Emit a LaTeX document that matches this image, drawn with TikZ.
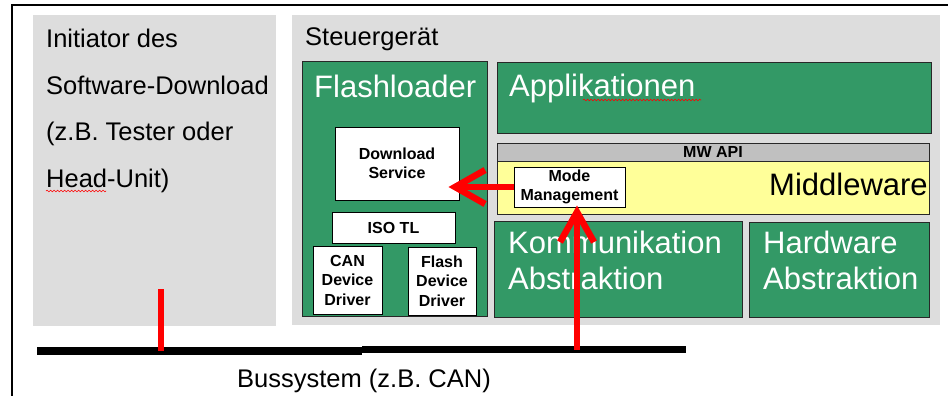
\documentclass[tikz,border=0pt]{standalone}
\usepackage{fontspec}
\setmainfont{Liberation Sans}
\usetikzlibrary{fit,arrows.meta,decorations.pathmorphing}

\definecolor{ecugreen}{RGB}{51,153,102}
\definecolor{panelgray}{RGB}{221,221,221}
\definecolor{apigray}{RGB}{192,192,192}
\definecolor{mwyellow}{RGB}{255,255,153}
\definecolor{edgegray}{RGB}{40,40,40}
\definecolor{signalred}{RGB}{255,0,0}

\newcommand{\txtNormal}{\fontsize{25.5}{30}\selectfont}
\newcommand{\txtBig}{\fontsize{31}{36}\selectfont}
\newcommand{\txtSmall}{\fontsize{16}{19.5}\selectfont\bfseries}

\begin{document}
\begin{tikzpicture}[x=1pt,y=-1pt,
  panel/.style={fill=panelgray, draw=none, inner sep=0pt},
  greenbox/.style={fill=ecugreen, draw=edgegray, line width=1pt, inner sep=0pt},
  whitebox/.style={fill=white, draw=black, line width=1pt, inner sep=0pt,
                   align=center, font=\txtSmall},
  apibar/.style={fill=apigray, draw=edgegray, line width=1pt, inner sep=0pt, font=\txtSmall},
  mwbox/.style={fill=mwyellow, draw=edgegray, line width=1pt, inner sep=0pt},
  busbar/.style={fill=black, draw=none, inner sep=0pt},
  plaintext/.style={font=\txtNormal, anchor=base west, inner sep=0pt},
  bigwhite/.style={font=\txtBig, text=white, anchor=base west, inner sep=0pt},
  bigblack/.style={font=\txtBig, text=black, anchor=base west, inner sep=0pt},
  redline/.style={draw=signalred, line width=6.5pt},
  redarrow/.style={draw=signalred, line width=6.5pt,
                   -{Straight Barb[length=30pt, width=34pt]}},
  squiggle/.style={draw=signalred, line width=0.6pt, decorate,
                   decoration={snake, amplitude=0.8pt, segment length=3.5pt}}
]
\useasboundingbox (0,0) rectangle (948,396);
\fill[white] (0,0) rectangle (948,396);

% outer frame (top and left edges)
\draw[line width=2pt] (12,396) -- (12,5) -- (948,5);

% --- initiator panel ---
\node[panel, fit={(33,15) (276,326)}] (init) {};
\node[plaintext] (initA) at (46,47.5) {Initiator des};
\node[plaintext] (initB) at (46,94) {Software-Download};
\node[plaintext] (initC) at (46,140.5) {(z.B. Tester oder};
\node[plaintext] (initD) at (46,187) {Head-Unit)};
\draw[squiggle] (46,191) -- (106,191);

% --- control unit panel ---
\node[panel, fit={(292,15) (940,325)}] (ecu) {};
\node[plaintext] (ecuT) at (305,46) {Steuergerät};

% flashloader
\node[greenbox, fit={(302,62) (487,316)}] (fl) {};
\node[bigwhite] (flT) at (314,97) {Flashloader};
\node[whitebox, minimum width=124pt, minimum height=73pt] (ds) at (397,163.5) {Download\\Service};
\node[whitebox, minimum width=123pt, minimum height=31pt] (iso) at (393.5,227.5) {ISO TL};
\node[whitebox, minimum width=69pt, minimum height=68pt] (candd) at (347.5,280) {CAN\\Device\\Driver};
\node[whitebox, minimum width=68pt, minimum height=68pt] (flashdd) at (442,281) {Flash\\Device\\Driver};

% applications
\node[greenbox, fit={(497,63) (931,133)}] (app) {};
\node[bigwhite] (appT) at (509,96) {Applikationen};
\draw[squiggle] (583,100) -- (701,100);

% middleware
\node[apibar, minimum width=432pt, minimum height=18pt] (api) at (713,152) {MW API};
\node[mwbox, fit={(497,161) (929,214)}] (mw) {};
\node[bigblack] (mwT) at (769,195) {Middleware};
\node[whitebox, minimum width=111pt, minimum height=40pt] (mm) at (569.5,187) {Mode\\Management};

% abstraction layers
\node[greenbox, fit={(494,221) (742,317)}] (com) {};
\node[bigwhite] (comA) at (508,253) {Kommunikation};
\node[bigwhite] (comB) at (508,289) {Abstraktion};
\node[greenbox, fit={(749,222) (929,317)}] (hw) {};
\node[bigwhite] (hwA) at (763,253) {Hardware};
\node[bigwhite] (hwB) at (763,289) {Abstraktion};

% --- bus ---
\node[busbar, fit={(37,347) (362,355)}] (busA) {};
\node[busbar, fit={(362,346) (686,353)}] (busB) {};
\node[font=\txtNormal, anchor=base, inner sep=0pt] (busT) at (364,387) {Bussystem (z.B. CAN)};

% --- signal paths ---
\coordinate (tapI) at (161,289);
\coordinate (tapE) at (577,349.5);
\draw[redline] (tapI) -- (tapI |- busA.center);
\draw[redarrow, shorten >=-2pt] (tapE) -- (tapE |- mm.south);
\draw[redarrow, shorten >=-11pt] (mm.west) -- (mm.west -| ds.east);
\end{tikzpicture}
\end{document}
